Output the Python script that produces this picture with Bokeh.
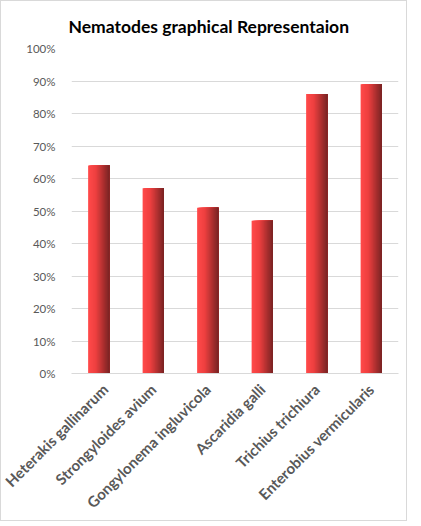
import math
from bokeh.plotting import figure
from bokeh.models import ColumnDataSource, NumeralTickFormatter, SingleIntervalTicker, Range1d
from bokeh.transform import dodge
from bokeh.embed import file_html
from bokeh.resources import INLINE

categories = ["Heterakis gallinarum", "Strongyloides avium", "Gongylonema ingluvicola",
              "Ascaridia galli", "Trichius trichiura", "Enterobius vermicularis"]
values = [0.64, 0.57, 0.51, 0.47, 0.86, 0.89]
title_text = "Nematodes graphical Representaion"

src = ColumnDataSource(data=dict(cat=categories, val=values))

p = figure(x_range=categories, y_range=Range1d(0, 1.0),
           width=403, height=508, output_backend="svg", toolbar_location=None,
           title=title_text, min_border_left=70, min_border_right=8,
           min_border_top=47, frame_width=327, frame_height=325)
p.styles = {"border": "1px solid #D9D9D9"}

p.title.text_font = "Lato"
p.title.text_font_size = "17.5px"
p.title.text_font_style = "bold"
p.title.text_color = "#000000"
p.title.align = "left"
p.title.offset = -3
p.title.standoff = 24

p.outline_line_color = None
p.background_fill_color = "white"
p.border_fill_color = "white"

p.xgrid.grid_line_color = None
p.ygrid.grid_line_color = "#D9D9D9"
p.ygrid.grid_line_width = 1

p.yaxis.ticker = SingleIntervalTicker(interval=0.1)
p.yaxis.formatter = NumeralTickFormatter(format="0%")
p.yaxis.axis_line_color = None
p.yaxis.major_tick_line_color = None
p.yaxis.minor_tick_line_color = None
p.yaxis.major_label_text_font = "Lato"
p.yaxis.major_label_text_font_size = "11.5px"
p.yaxis.major_label_text_color = "#595959"
p.yaxis.major_label_standoff = 10

p.xaxis.axis_line_color = "#D9D9D9"
p.xaxis.major_tick_line_color = None
p.xaxis.minor_tick_line_color = None
p.xaxis.major_label_orientation = math.pi / 4
p.xaxis.major_label_text_font = "Lato"
p.xaxis.major_label_text_font_size = "15px"
p.xaxis.major_label_text_font_style = "bold"
p.xaxis.major_label_text_color = "#595959"
p.xaxis.major_label_standoff = 7

# gradient bars: overlapping strips, each running from its start to the bar's right edge
bar_w = 0.39
N = 24
def lerp(a, b, t):
    return tuple(int(round(a[i] + (b[i] - a[i]) * t)) for i in range(3))
c0, c1, c2 = (255, 74, 74), (238, 64, 64), (125, 36, 36)
for k in range(N):
    t = k / (N - 1)
    if t < 0.35:
        c = lerp(c0, c1, t / 0.35)
    else:
        c = lerp(c1, c2, (t - 0.35) / 0.65)
    col = "#%02x%02x%02x" % c
    start = -bar_w / 2 + k * bar_w / N
    end = bar_w / 2
    p.vbar(x=dodge("cat", (start + end) / 2, range=p.x_range), top="val", bottom=0,
           width=end - start, source=src, fill_color=col, line_color=None)

open("out.html", "w").write(file_html(p, INLINE))
